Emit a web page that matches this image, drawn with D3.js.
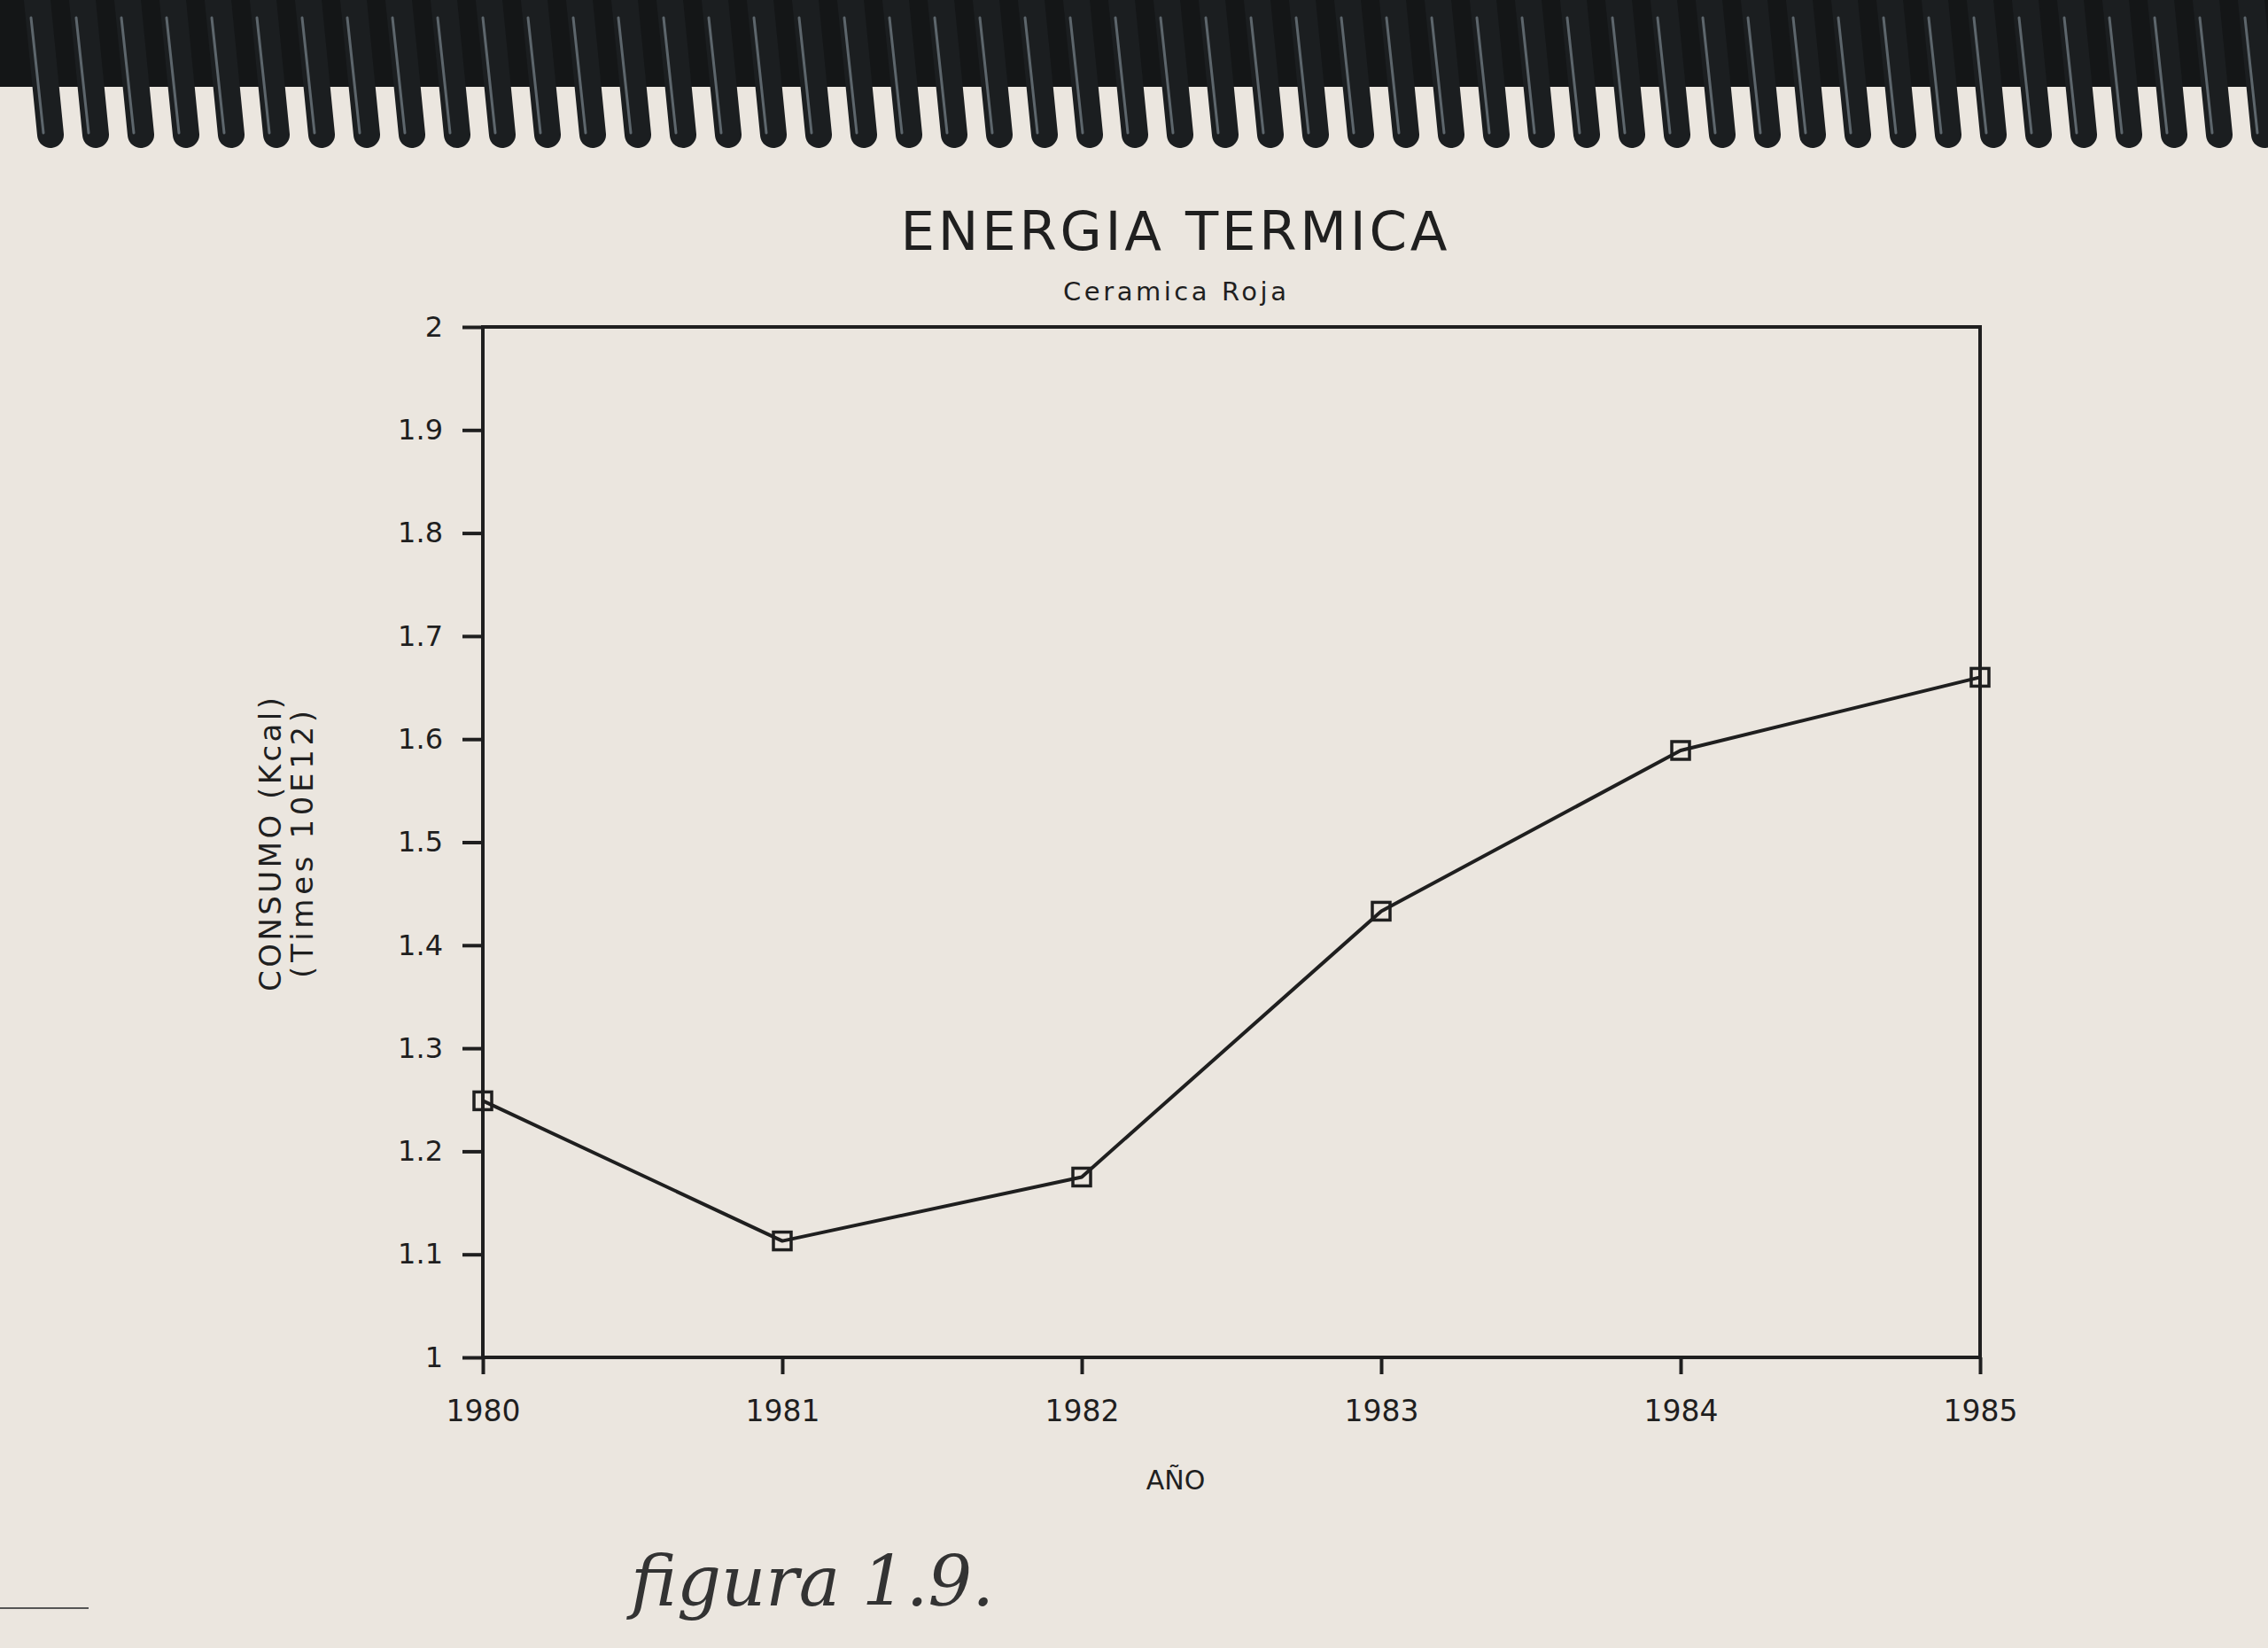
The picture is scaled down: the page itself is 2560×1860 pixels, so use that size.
<!DOCTYPE html>
<head>
  <title>Energia Termica</title>
  <meta charset="utf-8">
  <script type="text/javascript" src="https://cdnjs.cloudflare.com/ajax/libs/d3/7.8.5/d3.min.js"></script>
  <style>
body{ margin:0; background:#ebe6df; }
svg{ display:block; }
  </style>
</head>
<body>
</body>
<script>
// values
var years = [1980, 1981, 1982, 1983, 1984, 1985]
var consumo = [1.249, 1.113, 1.175, 1.433, 1.589, 1.660]
var yTicks = [1, 1.1, 1.2, 1.3, 1.4, 1.5, 1.6, 1.7, 1.8, 1.9, 2]
var yTickLabels = ["1", "1.1", "1.2", "1.3", "1.4", "1.5", "1.6", "1.7", "1.8", "1.9", "2"]
var xTickLabels = ["1980", "1981", "1982", "1983", "1984", "1985"]

var W = 2560, H = 1860
var ink = "#1f1f1f"
var plotL = 545, plotR = 2235, plotT = 369, plotB = 1532

var svg = d3.select("body").append("svg").attr("width", W).attr("height", H)
svg.append("rect").attr("width", W).attr("height", H).attr("fill", "#ebe6df")

// spiral binding across the top of the page
var spiral = svg.append("g").attr("id", "spiral")
spiral.append("rect").attr("x", 0).attr("y", 0).attr("width", W).attr("height", 98).attr("fill", "#141617")
d3.range(57, W, 51).forEach(function(cx){
  spiral.append("line").attr("x1", cx - 16).attr("y1", -10).attr("x2", cx).attr("y2", 152)
    .attr("stroke", "#1b1e20").attr("stroke-width", 30).attr("stroke-linecap", "round")
  spiral.append("line").attr("x1", cx - 22).attr("y1", 20).attr("x2", cx - 8).attr("y2", 150)
    .attr("stroke", "#5d666c").attr("stroke-width", 3).attr("stroke-linecap", "round")
})

var x = d3.scaleLinear().domain([1980, 1985]).range([plotL, plotR])
var y = d3.scaleLinear().domain([1, 2]).range([plotB, plotT])

// titles
svg.append("text").text("ENERGIA TERMICA").attr("x", 1325).attr("y", 282)
  .attr("text-anchor", "middle").attr("font-family", "DejaVu Sans").attr("font-size", 61)
  .attr("textLength", 617).attr("lengthAdjust", "spacing").attr("fill", ink)
svg.append("text").text("Ceramica Roja").attr("x", 1326).attr("y", 339)
  .attr("text-anchor", "middle").attr("font-family", "DejaVu Sans").attr("font-size", 29)
  .attr("textLength", 252).attr("lengthAdjust", "spacing").attr("fill", ink)

var plot = svg.append("g").attr("id", "plot")

// frame
plot.append("rect").attr("x", plotL).attr("y", plotT).attr("width", plotR - plotL).attr("height", plotB - plotT)
  .attr("fill", "none").attr("stroke", ink).attr("stroke-width", 4)

var yAxis = d3.axisLeft(y).tickValues(yTicks).tickFormat(function(d, i){ return yTickLabels[i] })
  .tickSize(23).tickPadding(22)
var xAxis = d3.axisBottom(x).tickValues(years).tickFormat(function(d, i){ return xTickLabels[i] })
  .tickSize(19).tickPadding(30)

var ya = plot.append("g").attr("transform", "translate(" + plotL + ",0)").call(yAxis)
var xa = plot.append("g").attr("transform", "translate(0," + plotB + ")").call(xAxis)
;[ya, xa].forEach(function(a){
  a.select(".domain").remove()
  a.selectAll(".tick line").attr("stroke", ink).attr("stroke-width", 4)
  a.selectAll(".tick text").attr("fill", ink).attr("font-family", "DejaVu Sans")
})
ya.selectAll(".tick text").attr("font-size", 32)
xa.selectAll(".tick text").attr("font-size", 33)

// axis titles
svg.append("text").text("AÑO").attr("x", 1327).attr("y", 1681).attr("text-anchor", "middle")
  .attr("font-family", "DejaVu Sans").attr("font-size", 30).attr("fill", ink)
var yl = svg.append("g").attr("transform", "translate(317,953) rotate(-90)")
yl.append("text").text("CONSUMO (Kcal)").attr("x", 0).attr("y", 0).attr("text-anchor", "middle")
  .attr("font-family", "DejaVu Sans").attr("font-size", 34).attr("fill", ink)
  .attr("textLength", 332).attr("lengthAdjust", "spacing")
yl.append("text").text("(Times 10E12)").attr("x", 0).attr("y", 36).attr("text-anchor", "middle")
  .attr("font-family", "DejaVu Sans").attr("font-size", 34).attr("fill", ink)
  .attr("textLength", 302).attr("lengthAdjust", "spacing")

// series
var pts = years.map(function(d, i){ return [d, consumo[i]] })
plot.append("path").datum(pts).attr("fill", "none").attr("stroke", ink).attr("stroke-width", 4)
  .attr("stroke-linejoin", "round")
  .attr("d", d3.line().x(function(d){ return x(d[0]) }).y(function(d){ return y(d[1]) }))
plot.selectAll(".mark").data(pts).enter().append("rect").attr("class", "mark")
  .attr("x", function(d){ return x(d[0]) - 10 }).attr("y", function(d){ return y(d[1]) - 10 })
  .attr("width", 20).attr("height", 20).attr("fill", "none").attr("stroke", ink).attr("stroke-width", 3.5)

// handwritten note at bottom
svg.append("text").text("figura 1.9.").attr("x", 712).attr("y", 1812)
  .attr("font-family", "DejaVu Serif").attr("font-style", "italic").attr("font-size", 78)
  .attr("textLength", 410).attr("lengthAdjust", "spacingAndGlyphs").attr("fill", "#333")
svg.append("line").attr("x1", 0).attr("y1", 1815).attr("x2", 100).attr("y2", 1815)
  .attr("stroke", "#555").attr("stroke-width", 2)
</script>
